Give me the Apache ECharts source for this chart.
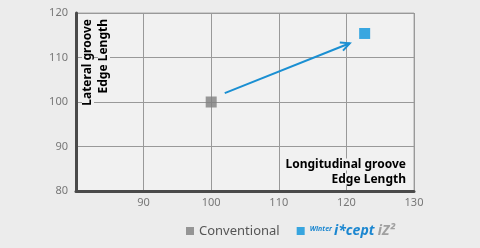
<!DOCTYPE html>
<html><head><meta charset="utf-8">
<script src="https://cdn.jsdelivr.net/npm/echarts@6/dist/echarts.min.js"></script>
<style>html,body{margin:0;padding:0;background:#ececec;}#c{width:480px;height:248px;}</style>
</head><body><div id="c"></div>
<script>
const xTicks = [80, 90, 100, 110, 120, 130];
const yTicks = [80, 90, 100, 110, 120];
const seriesNames = ['Conventional', 'Winter'];
const conventional = [[100, 100]];
const winter = [[122.7, 115.4]];
const arrowFrom = [102, 102];
const arrowTo = [120.5, 113.2];
const yName = ['Lateral groove', 'Edge Length'];
const xName = ['Longitudinal groove', 'Edge Length'];

const chart = echarts.init(document.getElementById('c'), null, {renderer: 'canvas'});
const plotBg = '#f1f1f1';
const font = 'Noto Sans';
chart.setOption({
  backgroundColor: '#ececec',
  animation: false,
  grid: {left: 76, right: 66, top: 13, bottom: 57, show: true, backgroundColor: plotBg, borderColor: '#aaaaaa', borderWidth: 1},
  xAxis: {
    type: 'value', min: xTicks[0], max: xTicks[xTicks.length - 1], interval: 10,
    axisLine: {show: true, onZero: false, lineStyle: {color: '#4a4a4a', width: 3}},
    axisTick: {show: false},
    splitLine: {show: true, lineStyle: {color: '#999999', width: 1}},
    axisLabel: {color: '#777', fontFamily: font, fontSize: 11, margin: 6,
      formatter: v => (v === xTicks[0] ? '' : String(v))}
  },
  yAxis: {
    type: 'value', min: yTicks[0], max: yTicks[yTicks.length - 1], interval: 10,
    axisLine: {show: true, onZero: false, lineStyle: {color: '#4a4a4a', width: 3}},
    axisTick: {show: false},
    splitLine: {show: true, lineStyle: {color: '#999999', width: 1}},
    axisLabel: {color: '#777', fontFamily: font, fontSize: 11, margin: 8}
  },
  legend: {
    left: 181, top: 219, itemWidth: 8, itemHeight: 8, itemGap: 17, itemStyle: {borderWidth: 0}, icon: 'rect',
    data: seriesNames,
    textStyle: {fontFamily: font, fontSize: 13, color: '#555',
      rich: {
        w: {fontSize: 7, fontWeight: 'bold', fontStyle: 'italic', color: '#1a86d0', fontFamily: font, padding: [0, 2, 5, 0]},
        i: {fontSize: 14, fontWeight: 'bold', fontStyle: 'italic', color: '#1a86d0', fontFamily: font},
        z: {fontSize: 14, fontWeight: 'bold', fontStyle: 'italic', color: '#a0a0a0', fontFamily: font}
      }},
    formatter: n => n === 'Winter' ? '{w|Winter}{i|i*cept} {z|iZ²}' : n
  },
  series: [
    {name: seriesNames[0], type: 'scatter', symbol: 'rect', symbolSize: 11, itemStyle: {color: '#808080'}, data: conventional, z: 5},
    {name: seriesNames[1], type: 'scatter', symbol: 'rect', symbolSize: 11, itemStyle: {color: '#0a94dc'}, data: winter, z: 5},
    {type: 'custom', silent: true, z: 4, data: [[arrowFrom[0], arrowFrom[1], arrowTo[0], arrowTo[1]]],
      renderItem: (params, api) => {
        const a = api.coord([api.value(0), api.value(1)]);
        const b = api.coord([api.value(2), api.value(3)]);
        const ang = Math.atan2(b[1] - a[1], b[0] - a[0]);
        const L = 10, s = 0.45;
        const p1 = [b[0] - L * Math.cos(ang - s), b[1] - L * Math.sin(ang - s)];
        const p2 = [b[0] - L * Math.cos(ang + s), b[1] - L * Math.sin(ang + s)];
        const st = {stroke: '#1a8fd2', lineWidth: 2, fill: 'none'};
        return {type: 'group', children: [
          {type: 'line', shape: {x1: a[0], y1: a[1], x2: b[0], y2: b[1]}, style: st},
          {type: 'polyline', shape: {points: [p1, b, p2]}, style: st}
        ]};
      }}
  ],
  graphic: [
    {type: 'text', x: 80, y: 19, rotation: Math.PI / 2, z: 10,
      style: {text: yName.map(t => '{a|' + t + '}').join('\n'), align: 'right', verticalAlign: 'top',
        rich: {a: {fontFamily: font, fontWeight: 'bold', fontSize: 12, color: '#4a4a4a', backgroundColor: plotBg, lineHeight: 16, padding: [0, 0, 0, 2]}}}},
    {type: 'text', x: 406, y: 157, z: 10,
      style: {text: xName.map(t => '{a|' + t + '}').join('\n'), align: 'right', verticalAlign: 'top',
        rich: {a: {fontFamily: font, fontWeight: 'bold', fontSize: 12, color: '#4a4a4a', backgroundColor: plotBg, lineHeight: 15, padding: [0, 0, 0, 2], align: 'right'}}}}
  ]
});
</script></body></html>
